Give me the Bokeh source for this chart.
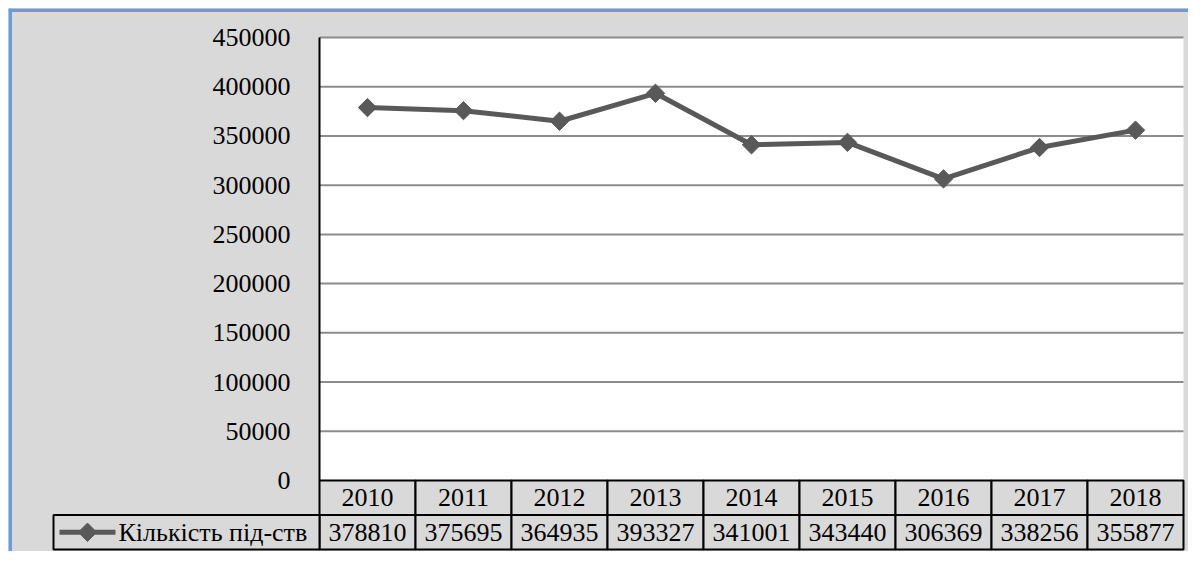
import numpy as np
from bokeh.plotting import figure
from bokeh.models import Range1d, FixedTicker, Span, LinearAxis
from bokeh.core.properties import value
from bokeh.embed import file_html
from bokeh.resources import INLINE

# ---- data ----
years = ["2010", "2011", "2012", "2013", "2014", "2015", "2016", "2017", "2018"]
counts = [378810, 375695, 364935, 393327, 341001, 343440, 306369, 338256, 355877]
y_ticks = [0, 50000, 100000, 150000, 200000, 250000, 300000, 350000, 400000, 450000]
y_tick_labels = ["0", "50000", "100000", "150000", "200000", "250000",
                 "300000", "350000", "400000", "450000"]
series_name = "Кількість під-ств"

# ---- layout (pixels) ----
W, H = 1188, 551
MARGIN = 8                      # white strip left/top of chart area
FW, FH = W - MARGIN, H - MARGIN  # frame size
PLOT_L, PLOT_R = 311, 1175      # relative to frame
PLOT_T, PLOT_B = 29, 472
ROW_H = 34.5
LEG_L = 45

FONT = "Liberation Serif"
FS = "26px"
BG = "#d9d9d9"
LINE_C = "#595959"
GRID_C = "#8c8c8c"
BLUE = "#6e9bd3"

n = len(years)
col_px = (PLOT_R - PLOT_L) / n
x_start = -PLOT_L / col_px
x_end = n + (FW - PLOT_R) / col_px
ymax = y_ticks[-1]
upp = ymax / (PLOT_B - PLOT_T)
y_end = ymax + PLOT_T * upp
y_start = -(FH - PLOT_B) * upp

p = figure(width=W, height=H, x_range=Range1d(x_start, x_end),
           y_range=Range1d(y_start, y_end),
           output_backend="svg", toolbar_location=None, min_border=0,
           min_border_left=MARGIN, min_border_top=MARGIN,
           x_axis_type=None, y_axis_type=None)
p.extra_y_ranges = {"table": Range1d(-(FH - PLOT_B) / ROW_H, PLOT_B / ROW_H)}
p.background_fill_color = BG
p.border_fill_color = "white"
p.outline_line_color = None
p.xgrid.visible = False
p.ygrid.visible = False

idx = np.arange(n)
centers = idx + 0.5

# white plot area
p.quad(left=0, right=n, bottom=0, top=ymax, fill_color="white", line_color=None)

# gridlines
grid_y = [t for t in y_ticks if t > 0]
p.segment(x0=[0] * len(grid_y), x1=[n] * len(grid_y), y0=grid_y, y1=grid_y,
          line_color=GRID_C, line_width=2)

# y axis
ax = LinearAxis(ticker=FixedTicker(ticks=y_ticks), fixed_location=0)
ax.major_label_overrides = {t: l for t, l in zip(y_ticks, y_tick_labels)}
ax.axis_line_color = "black"
ax.axis_line_width = 2
ax.bounds = (0, ymax)
ax.major_tick_line_color = None
ax.minor_tick_line_color = None
ax.major_label_text_font = FONT
ax.major_label_text_font_size = FS
ax.major_label_text_color = "black"
ax.major_label_standoff = 23
p.add_layout(ax, "left")

# data table: header row (years) and values row
p.quad(left=idx, right=idx + 1, top=0, bottom=-1, y_range_name="table",
       fill_color=BG, line_color="black", line_width=2)
p.quad(left=idx, right=idx + 1, top=-1, bottom=-2, y_range_name="table",
       fill_color=BG, line_color="black", line_width=2)
leg_left = -(PLOT_L - LEG_L) / col_px
p.quad(left=[leg_left], right=[0], top=[-1], bottom=[-2], y_range_name="table",
       fill_color=BG, line_color="black", line_width=2)

p.text(x=centers, y=[-0.5] * n, text=years, y_range_name="table",
       text_font=value(FONT), text_font_size=FS, text_color="black",
       text_align="center", text_baseline="middle")
p.text(x=centers, y=[-1.5] * n, text=[str(v) for v in counts], y_range_name="table",
       text_font=value(FONT), text_font_size=FS, text_color="black",
       text_align="center", text_baseline="middle")

# legend key inside table
gx0 = leg_left + 6 / col_px
gx1 = leg_left + 62 / col_px
p.line(x=[gx0, gx1], y=[-1.5, -1.5], y_range_name="table",
       line_color=LINE_C, line_width=5)
p.scatter(x=[(gx0 + gx1) / 2], y=[-1.5], y_range_name="table", marker="square",
          angle=np.pi / 4, size=13, fill_color=LINE_C, line_color=LINE_C)
p.text(x=[gx1 + 3 / col_px], y=[-1.5], text=[series_name], y_range_name="table",
       text_font=value(FONT), text_font_size=FS, text_color="black",
       text_align="left", text_baseline="middle")

# series line
p.line(x=centers, y=counts, line_color=LINE_C, line_width=5)
p.scatter(x=centers, y=counts, marker="square", angle=np.pi / 4, size=13,
          fill_color=LINE_C, line_color=LINE_C)

# blue chart border (top and left)
p.add_layout(Span(location=x_start, dimension="height", line_color=BLUE, line_width=7))
p.add_layout(Span(location=y_end, dimension="width", line_color=BLUE, line_width=7))

open("out.html", "w").write(file_html(p, INLINE))
